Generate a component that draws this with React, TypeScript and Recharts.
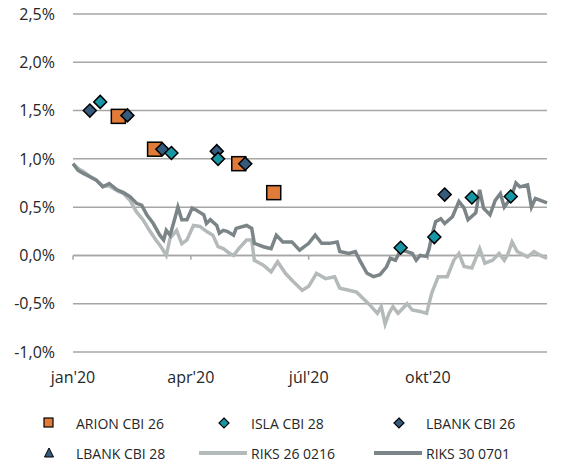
import {
  ComposedChart,
  Line,
  Scatter,
  XAxis,
  YAxis,
  CartesianGrid,
  ReferenceLine,
} from "recharts";

// x = day of 2020 (0 = 1 Jan), y = real yield in %
const monthTicks = [0, 91, 182, 274];
const monthLabels = ["jan'20", "apr'20", "júl'20", "okt'20"];
const yTicks = [-1, -0.5, 0, 0.5, 1, 1.5, 2, 2.5];

const arionCbi26: [number, number][] = [
  [35, 1.44],
  [63, 1.1],
  [128, 0.95],
  [155, 0.65],
];

const islaCbi28: [number, number][] = [
  [21, 1.59],
  [76, 1.06],
  [112, 1.0],
  [253, 0.08],
  [279, 0.19],
  [308, 0.6],
  [338, 0.61],
];

const lbankCbi26: [number, number][] = [
  [13, 1.5],
  [42, 1.45],
  [69, 1.1],
  [111, 1.08],
  [133, 0.95],
  [287, 0.63],
];

const lbankCbi28: [number, number][] = [];

const riks260216: [number, number][] = [
  [0, 0.95], [4, 0.9], [8, 0.87], [13, 0.82], [18, 0.78], [23, 0.72],
  [28, 0.72], [34, 0.67], [39, 0.64], [44, 0.57], [49, 0.45], [54, 0.37],
  [59, 0.26], [64, 0.16], [68, 0.09], [72, 0.0], [75, 0.18], [80, 0.26],
  [84, 0.12], [88, 0.16], [93, 0.31], [98, 0.3], [103, 0.25], [108, 0.21],
  [112, 0.09], [116, 0.07], [121, 0.02], [124, 0.0], [128, 0.07], [134, 0.16],
  [138, 0.16], [140, -0.05], [147, -0.1], [153, -0.17], [158, -0.065],
  [164, -0.185], [170, -0.27], [177, -0.36], [182, -0.32], [188, -0.185],
  [195, -0.24], [202, -0.22], [206, -0.34], [213, -0.36], [219, -0.38],
  [224, -0.445], [229, -0.51], [235, -0.6], [238, -0.53], [241, -0.71],
  [244, -0.6], [247, -0.53], [251, -0.6], [258, -0.5], [262, -0.565],
  [268, -0.58], [273, -0.6], [277, -0.39], [282, -0.22], [289, -0.22],
  [294, -0.05], [298, 0.02], [302, -0.115], [308, -0.13], [314, 0.07],
  [318, -0.08], [324, -0.05], [329, 0.02], [333, -0.05], [336, 0.02],
  [339, 0.14], [343, 0.04], [351, -0.015], [356, 0.04], [361, 0.0], [366, -0.03],
];

const riks300701: [number, number][] = [
  [0, 0.95], [4, 0.88], [8, 0.85], [13, 0.815], [18, 0.78], [23, 0.71],
  [28, 0.745], [34, 0.68], [39, 0.65], [44, 0.61], [49, 0.54], [53, 0.52],
  [57, 0.42], [62, 0.33], [67, 0.21], [70, 0.16], [72, 0.26], [75, 0.21],
  [79, 0.4], [81, 0.5], [84, 0.37], [88, 0.37], [92, 0.49], [95, 0.47],
  [101, 0.42], [103, 0.33], [106, 0.37], [111, 0.31], [113, 0.23], [116, 0.26],
  [119, 0.25], [124, 0.21], [126, 0.28], [134, 0.31], [138, 0.28], [140, 0.125],
  [147, 0.09], [153, 0.07], [157, 0.21], [162, 0.14], [169, 0.14], [175, 0.055],
  [182, 0.125], [187, 0.21], [192, 0.125], [198, 0.125], [204, 0.14], [206, 0.04],
  [213, 0.02], [218, 0.04], [222, -0.065], [227, -0.185], [232, -0.22],
  [237, -0.2], [242, -0.12], [245, -0.03], [249, -0.05], [253, 0.055],
  [258, 0.04], [262, 0.02], [265, -0.05], [268, 0.0], [273, -0.01], [275, 0.07],
  [277, 0.2], [280, 0.35], [284, 0.38], [287, 0.33], [293, 0.4], [298, 0.56],
  [302, 0.49], [305, 0.37], [311, 0.44], [314, 0.68], [317, 0.49], [322, 0.42],
  [326, 0.57], [330, 0.64], [333, 0.5], [338, 0.59], [342, 0.75], [345, 0.71],
  [351, 0.73], [354, 0.5], [357, 0.59], [361, 0.57], [366, 0.545],
];

const toPoints = (arr: [number, number][]) => arr.map(([d, v]) => ({ d, v }));

const ORANGE = "#e07b39";
const TEAL = "#1797a6";
const NAVY = "#355a7c";
const LIGHT = "#b4b9ba";
const DARK = "#7b8588";
const GRID = "#a6a6a6";
const TEXT = "#262626";
const FONT = "'Open Sans', sans-serif";

const SquareDot = (props: any) => {
  const { cx, cy } = props;
  if (cx == null || cy == null) return null;
  return (
    <rect x={cx - 7} y={cy - 7} width={14} height={14} fill={ORANGE} stroke="#000" strokeWidth={1.5} />
  );
};

const makeDiamond = (fill: string) => (props: any) => {
  const { cx, cy } = props;
  if (cx == null || cy == null) return null;
  const r = 6.5;
  return (
    <path
      d={`M${cx},${cy - r}L${cx + r},${cy}L${cx},${cy + r}L${cx - r},${cy}Z`}
      fill={fill}
      stroke="#000"
      strokeWidth={1.5}
    />
  );
};

const legendItems = [
  { name: "ARION CBI 26", kind: "square", color: ORANGE },
  { name: "ISLA CBI 28", kind: "diamond", color: TEAL },
  { name: "LBANK CBI 26", kind: "diamond", color: NAVY },
  { name: "LBANK CBI 28", kind: "triangle", color: NAVY },
  { name: "RIKS 26 0216", kind: "line", color: LIGHT },
  { name: "RIKS 30 0701", kind: "line", color: DARK },
];

function LegendIcon({ kind, color }: { kind: string; color: string }) {
  return (
    <svg width={50} height={14} style={{ display: "block" }}>
      {kind === "square" && <rect x={20} y={2} width={9} height={9} fill={color} stroke="#000" strokeWidth={1.2} />}
      {kind === "diamond" && <path d="M25,2L30,7L25,12L20,7Z" fill={color} stroke="#000" strokeWidth={1.2} />}
      {kind === "triangle" && <path d="M25,2L29.5,11L20.5,11Z" fill={color} stroke="#000" strokeWidth={1} />}
      {kind === "line" && <line x1={0} y1={7} x2={48} y2={7} stroke={color} strokeWidth={4} />}
    </svg>
  );
}

export default function App() {
  return (
    <div style={{ position: "absolute", left: 0, top: 0, width: 587, height: 468, background: "#fff" }}>
      <ComposedChart width={587} height={468} margin={{ top: 14, right: 40, bottom: 86, left: 0 }}>
        <CartesianGrid vertical={false} stroke={GRID} strokeWidth={1.5} />
        <XAxis
          type="number"
          dataKey="d"
          domain={[0, 366]}
          ticks={monthTicks}
          tickFormatter={(v: number) => monthLabels[monthTicks.indexOf(v)] ?? ""}
          axisLine={false}
          tickLine={false}
          tickSize={0}
          tickMargin={20}
          height={30}
          tick={{ fill: TEXT, fontSize: 16, fontFamily: FONT }}
          allowDuplicatedCategory={false}
        />
        <YAxis
          type="number"
          domain={[-1, 2.5]}
          ticks={yTicks}
          tickFormatter={(v: number) => v.toFixed(1).replace(".", ",") + "%"}
          axisLine={false}
          tickLine={false}
          tickSize={0}
          tickMargin={18}
          width={73}
          tick={{ fill: TEXT, fontSize: 16, fontFamily: FONT }}
        />
        <ReferenceLine y={0} stroke={GRID} strokeWidth={1.5} />
        {monthTicks.map((t) => (
          <ReferenceLine
            key={t}
            segment={[
              { x: t, y: 0 },
              { x: t, y: -0.045 },
            ]}
            stroke={GRID}
            strokeWidth={1.5}
          />
        ))}
        <Line
          data={toPoints(riks260216)}
          dataKey="v"
          name="RIKS 26 0216"
          type="linear"
          stroke={LIGHT}
          strokeWidth={3.5}
          dot={false}
          activeDot={false}
          isAnimationActive={false}
        />
        <Line
          data={toPoints(riks300701)}
          dataKey="v"
          name="RIKS 30 0701"
          type="linear"
          stroke={DARK}
          strokeWidth={3.5}
          dot={false}
          activeDot={false}
          isAnimationActive={false}
        />
        <Scatter data={toPoints(lbankCbi28)} dataKey="v" name="LBANK CBI 28" fill={NAVY} isAnimationActive={false} />
        <Scatter data={toPoints(arionCbi26)} dataKey="v" name="ARION CBI 26" shape={SquareDot} isAnimationActive={false} />
        <Scatter data={toPoints(lbankCbi26)} dataKey="v" name="LBANK CBI 26" shape={makeDiamond(NAVY)} isAnimationActive={false} />
        <Scatter data={toPoints(islaCbi28)} dataKey="v" name="ISLA CBI 28" shape={makeDiamond(TEAL)} isAnimationActive={false} />
      </ComposedChart>
      <div
        style={{
          position: "absolute",
          left: 24,
          top: 408,
          width: 540,
          display: "flex",
          flexWrap: "wrap",
          fontFamily: FONT,
          fontSize: 14,
          color: TEXT,
        }}
      >
        {legendItems.map((it) => (
          <div key={it.name} style={{ width: 175, height: 30, display: "flex", alignItems: "center" }}>
            <LegendIcon kind={it.kind} color={it.color} />
            <span style={{ marginLeft: 2, whiteSpace: "nowrap" }}>{it.name}</span>
          </div>
        ))}
      </div>
    </div>
  );
}
